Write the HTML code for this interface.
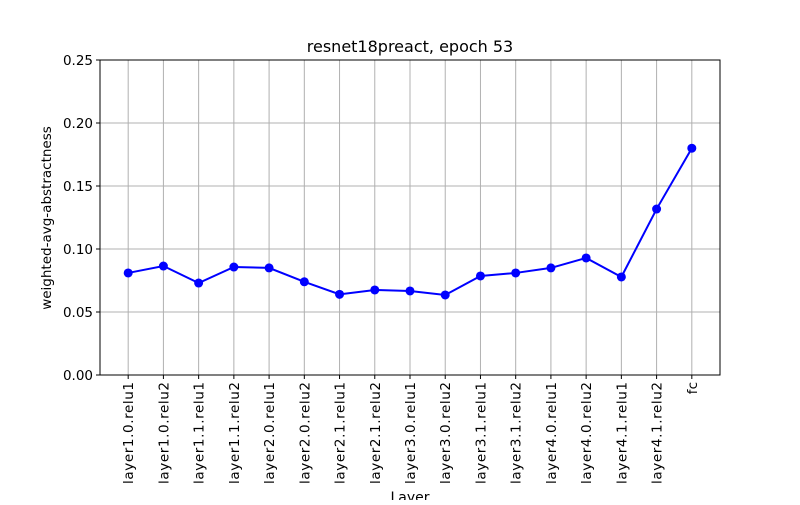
<!DOCTYPE html>
<html><head><meta charset="utf-8"><style>
body{margin:0;background:#fff;}
svg text{font-family:"DejaVu Sans","Liberation Sans",sans-serif;fill:#000;}
</style></head><body>
<svg id="chart" width="800" height="500" xmlns="http://www.w3.org/2000/svg">
<rect width="800" height="500" fill="#fff"/>
<g id="grid"></g>
<g id="axes"></g>
<g id="marks"></g>
<text x="410" y="52" text-anchor="middle" font-size="16">resnet18preact, epoch 53</text>
<text x="410" y="502" text-anchor="middle" font-size="14">Layer</text>
<text transform="translate(51,218) rotate(-90)" text-anchor="middle" font-size="13.5">weighted-avg-abstractness</text>
</svg>
<script>
const categories=["layer1.0.relu1","layer1.0.relu2","layer1.1.relu1","layer1.1.relu2","layer2.0.relu1","layer2.0.relu2","layer2.1.relu1","layer2.1.relu2","layer3.0.relu1","layer3.0.relu2","layer3.1.relu1","layer3.1.relu2","layer4.0.relu1","layer4.0.relu2","layer4.1.relu1","layer4.1.relu2","fc"];
const values=[0.081,0.0865,0.073,0.0857,0.085,0.074,0.064,0.0675,0.0667,0.0635,0.0786,0.081,0.085,0.0929,0.0778,0.1317,0.180];
const yTicks=[0,0.05,0.10,0.15,0.20,0.25];
const yTickLabels=["0.00","0.05","0.10","0.15","0.20","0.25"];
const L=100,R=720,T=60,B=375,NS="http://www.w3.org/2000/svg";
const n=categories.length;
const xs=i=>L+(i+0.8)*(R-L)/(n-1+1.6);
const ys=v=>B-(v-0)/(0.25)*(B-T);
function mk(t,a,p){const e=document.createElementNS(NS,t);for(const k in a)e.setAttribute(k,a[k]);p.appendChild(e);return e;}
const grid=document.getElementById('grid'),axes=document.getElementById('axes'),marks=document.getElementById('marks');
categories.forEach((c,i)=>{
 const x=xs(i);
 const g=mk('line',{x1:x,x2:x,y1:T,y2:B,stroke:'#b0b0b0','stroke-width':1},grid);
 
 
 mk('line',{x1:x,x2:x,y1:B,y2:B+4,stroke:'#000'},axes);
 const t=mk('text',{transform:`translate(${x+5},${B+7}) rotate(-90)`,'text-anchor':'end','font-size':13.5},axes);
 if(c.length>3)t.setAttribute('textLength',102);
 t.textContent=c;
 
 
});
yTicks.forEach((v,i)=>{
 const y=ys(v);
 const g=mk('line',{x1:L,x2:R,y1:y,y2:y,stroke:'#b0b0b0','stroke-width':1},grid);
 
 
 mk('line',{x1:L-4,x2:L,y1:y,y2:y,stroke:'#000'},axes);
 const t=mk('text',{x:L-7,y:y+5,'text-anchor':'end','font-size':13.5},axes);
 t.textContent=yTickLabels[i];
 
 
});
const fr=mk('rect',{x:L,y:T,width:R-L,height:B-T,fill:'none',stroke:'#000','stroke-width':1},axes);


const pl=mk('polyline',{points:values.map((v,i)=>xs(i)+','+ys(v)).join(' '),fill:'none',stroke:'#0000ff','stroke-width':2},marks);


values.forEach((v,i)=>{
 const c=mk('circle',{cx:xs(i),cy:ys(v),r:4.5,fill:'#0000ff'},marks);
 
 
});
</script>
</body></html>
